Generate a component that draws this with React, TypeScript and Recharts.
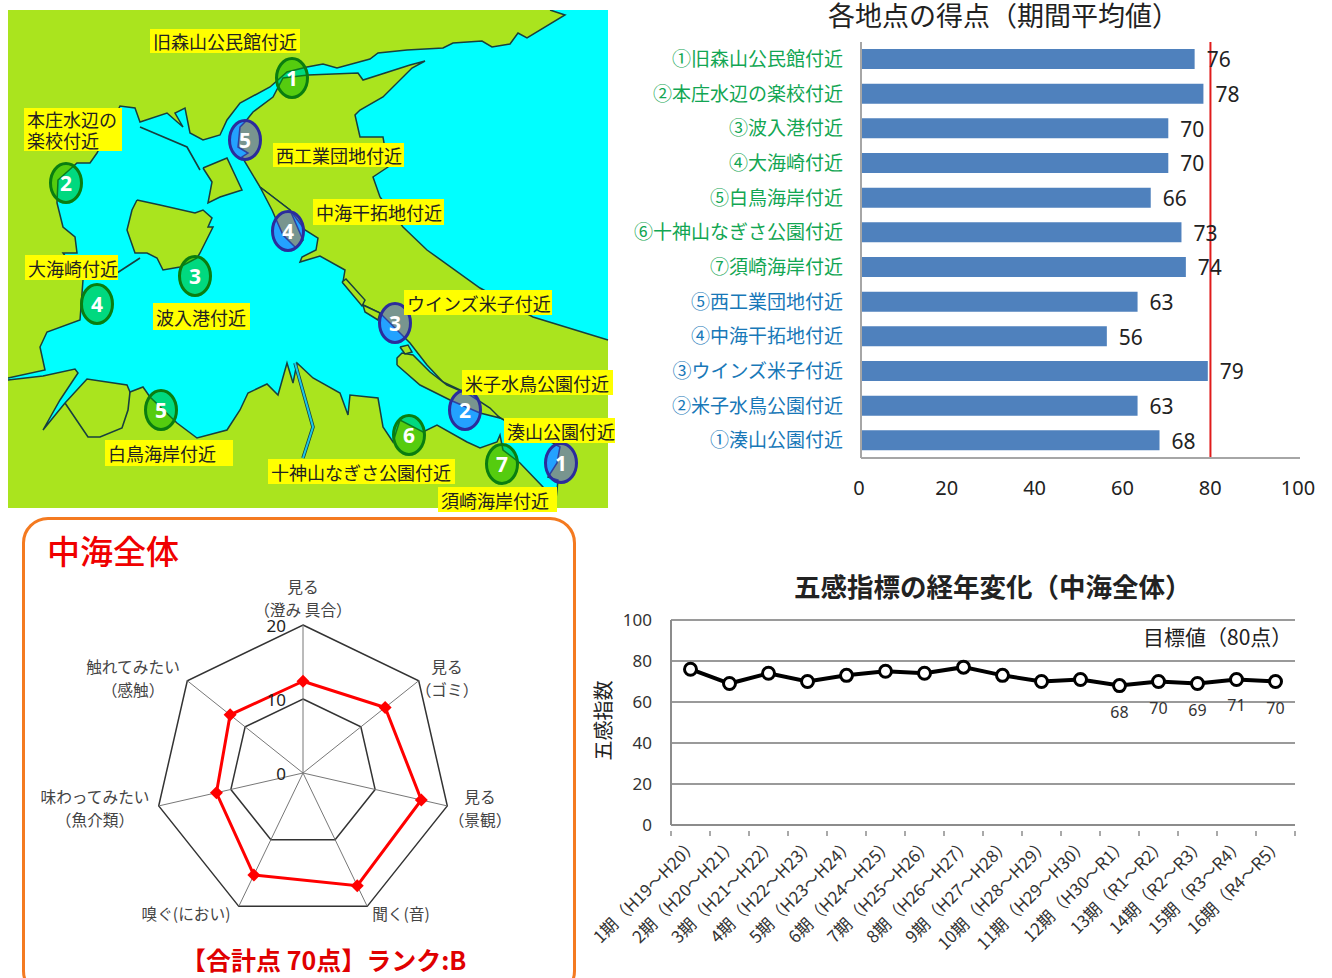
import React from 'react';
import {
  BarChart, Bar, XAxis, YAxis, ReferenceLine, LabelList, LineChart, Line, CartesianGrid,
  RadarChart, Radar, PolarGrid, PolarAngleAxis, PolarRadiusAxis, ScatterChart, Scatter,
} from 'recharts';

const JP = '"Noto Sans CJK JP", "Noto Sans", sans-serif';
const LATIN = '"Noto Sans", "Noto Sans CJK JP", sans-serif';

/* ---------- site scores ---------- */
const siteNames = [
  '①旧森山公民館付近', '②本庄水辺の楽校付近', '③波入港付近', '④大海崎付近', '⑤白鳥海岸付近',
  '⑥十神山なぎさ公園付近', '⑦須崎海岸付近', '⑤西工業団地付近', '④中海干拓地付近',
  '③ウインズ米子付近', '②米子水鳥公園付近', '①湊山公園付近',
];
const siteScores = [76, 78, 70, 70, 66, 73, 74, 63, 56, 79, 63, 68];
const scoreTicks = [0, 20, 40, 60, 80, 100];
const scoreTargetMark = 79.6;
const scoreRows = siteNames.map((name, i) => ({ name, score: siteScores[i] }));

/* ---------- radar ---------- */
const senseKeys = ['澄み具合', 'ゴミ', '景観', '音', 'におい', '魚介類', '感触'];
const senseLines = [
  ['見る', '（澄み 具合）'], ['見る', '（ゴミ）'], ['見る', '（景観）'], ['聞く(音)'],
  ['嗅ぐ(におい)'], ['味わってみたい', '（魚介類）'], ['触れてみたい', '（感触）'],
];
const senseScores = [12.4, 14.2, 16.4, 16.9, 15.3, 12.0, 12.6];
const senseTicks = [0, 10, 20];
const senseRows = senseKeys.map((k, i) => ({ k, v: senseScores[i] }));
const senseLabelAt = [[281, 26], [425, 106], [458, 236], [379, 353], [164, 353], [73, 236], [111, 106]];

/* ---------- yearly trend ---------- */
const periods = [
  '1期（H19～H20）', '2期（H20～H21）', '3期（H21～H22）', '4期（H22～H23）', '5期（H23～H24）',
  '6期（H24～H25）', '7期（H25～H26）', '8期（H26～H27）', '9期（H27～H28）', '10期（H28～H29）',
  '11期（H29～H30）', '12期（H30～R1）', '13期（R1～R2）', '14期（R2～R3）', '15期（R3～R4）', '16期（R4～R5）',
];
const periodScores = [76, 69, 74, 70, 73, 75, 74, 77, 73, 70, 71, 68, 70, 69, 71, 70];
const trendTicks = [0, 20, 40, 60, 80, 100];
const firstLabelledPeriod = 11;
const trendRows = periods.map((p, i) => ({ p, v: periodScores[i] }));

/* ---------- Nakaumi map, in map units ---------- */
type Pt = [number, number];
const waterOutline: Pt[] = [[8, 10], [608, 10], [608, 508], [8, 508]];
const westNorthLand: Pt[] = [
  [8, 10], [550, 10], [565, 15], [527, 38], [518, 33], [510, 44], [492, 47], [482, 41], [453, 43], [443, 48],
  [407, 50], [378, 53], [370, 59], [337, 68], [323, 64], [307, 67], [287, 72], [270, 87], [240, 103], [227, 120],
  [220, 135], [203, 140], [190, 133], [185, 108], [175, 113], [183, 127], [167, 113], [140, 122], [135, 108],
  [120, 106], [97, 153], [90, 163], [77, 163], [58, 180], [57, 203], [63, 227], [75, 237], [77, 253], [63, 253],
  [83, 280], [80, 320], [47, 332], [40, 347], [45, 370], [8, 378],
];
const eastLand: Pt[] = [
  [608, 508], [608, 340], [533, 317], [480, 288], [427, 250], [403, 227], [380, 197], [373, 177], [388, 167],
  [383, 137], [360, 137], [355, 115], [360, 110], [383, 97], [412, 68], [425, 61], [410, 65], [363, 80], [358, 73],
  [308, 75], [283, 78], [273, 97], [253, 112], [245, 122], [240, 127], [238, 147], [248, 153], [242, 157], [260, 187],
  [290, 210], [305, 230], [318, 238], [316, 250], [302, 257], [300, 262], [320, 256], [345, 270], [343, 282],
  [363, 305], [380, 313], [410, 343], [427, 365], [443, 382], [460, 390], [487, 410], [504, 420], [553, 443],
  [560, 447], [557, 463], [548, 477], [558, 480], [557, 490], [555, 508],
];
const southLand: Pt[] = [
  [8, 380], [43, 376], [75, 369], [78, 373], [60, 400], [43, 430], [65, 403], [87, 379], [127, 385], [130, 392],
  [143, 387], [150, 397], [177, 423], [197, 438], [227, 430], [240, 410], [248, 393], [267, 384], [278, 395],
  [287, 363], [293, 383], [297, 363], [313, 378], [340, 393], [348, 415], [350, 395], [378, 398], [383, 427],
  [393, 442], [400, 420], [423, 432], [437, 425], [467, 442], [480, 448], [497, 442], [500, 435], [503, 450],
  [520, 463], [543, 487], [555, 508], [8, 508],
];
const centreIsland: Pt[] = [
  [137, 200], [160, 205], [195, 213], [203, 210], [212, 218], [208, 227], [213, 227], [200, 253], [197, 258],
  [180, 267], [163, 270], [157, 258], [147, 253], [135, 253], [127, 230], [132, 210],
];
const smallIsland: Pt[] = [[203, 168], [227, 158], [242, 190], [220, 197], [208, 203], [212, 182]];
const reclaimedTriangle: Pt[] = [[260, 187], [272, 210], [283, 235], [296, 248], [303, 240], [290, 210]];
const harbourStrip: Pt[] = [
  [397, 365], [397, 358], [402, 353], [413, 355], [430, 372], [447, 385], [470, 395], [490, 408], [500, 418],
  [480, 413], [450, 400], [420, 385],
];
const jettyA: Pt[] = [[342, 282], [346, 279], [365, 300], [362, 306]];
const jettyB: Pt[] = [[363, 305], [380, 313], [378, 320], [365, 312]];
const jettyC: Pt[] = [[400, 347], [408, 345], [412, 352], [405, 354]];
const causeways: Pt[][] = [
  [[140, 127], [187, 147], [200, 170]],
  [[117, 273], [140, 258]],
  [[65, 403], [88, 437], [100, 437], [122, 428], [128, 410], [130, 392]],
];
const innerRiver: Pt[] = [[295, 363], [313, 427], [303, 458]];
const shoreFills = [westNorthLand, eastLand, southLand];
const islands = [centreIsland, smallIsland, reclaimedTriangle, harbourStrip, jettyA, jettyB, jettyC];
// Shorelines of the three big land masses, leaving out the sides that lie on the map's frame.
const shoreLines: Pt[][] = [westNorthLand.slice(1), eastLand.slice(1), southLand.slice(0, -1)];

const greenSites = [[1, 292, 78], [2, 66, 183], [3, 195, 276], [4, 97, 304], [5, 161, 410], [6, 409, 435], [7, 502, 464]];
const blueSites = [[5, 245, 140], [4, 288, 231], [3, 395, 323], [2, 465, 410], [1, 561, 463]];

const placeNames = [
  '旧森山公民館付近', '本庄水辺の\n楽校付近', '西工業団地付近', '中海干拓地付近', '大海崎付近', '波入港付近',
  '白鳥海岸付近', '十神山なぎさ公園付近', '須崎海岸付近', '湊山公園付近', '米子水鳥公園付近', 'ウインズ米子付近',
];
const placeBoxes = [
  [150, 29, 150, 24], [24, 108, 98, 43], [273, 143, 131, 24], [313, 199, 131, 26], [25, 255, 93, 25], [153, 303, 97, 27],
  [105, 440, 128, 26], [268, 459, 187, 25], [438, 487, 119, 25], [504, 418, 111, 25], [462, 370, 151, 25], [404, 290, 148, 25],
];
const placeRows = placeNames.map((text, i) => ({
  x: placeBoxes[i][0] + placeBoxes[i][2] / 2,
  y: placeBoxes[i][1] + placeBoxes[i][3] / 2,
  text,
  index: i,
}));

const toRows = (ring: Pt[], close = true) => {
  const pts = close ? [...ring, ring[0]] : ring;
  return pts.map(([x, y]) => ({ x, y }));
};
const noMark = () => null;
const LAND = '#aae41e';
const SHORE = '#173f3f';

function SiteMark(props: any) {
  const { cx, cy, payload, tone } = props;
  const fill = tone === 'green' ? '#00b400' : '#4646ff';
  const stroke = tone === 'green' ? '#0a7d10' : '#2b2c9c';
  return (
    <g>
      <ellipse cx={cx} cy={cy} rx={15.5} ry={19.5} fill={fill} fillOpacity={0.5} stroke={stroke} strokeWidth={3} />
      <text x={cx} y={cy} textAnchor="middle" dominantBaseline="central" fill="#fff" fontSize={21} fontWeight={700} fontFamily={LATIN}>
        {payload.n}
      </text>
    </g>
  );
}

function PlaceLabel(props: any) {
  const { cx, cy, payload } = props;
  const [, , w, h] = placeBoxes[payload.index];
  const lines: string[] = payload.text.split('\n');
  const left = cx - w / 2;
  const top = cy - h / 2;
  return (
    <g>
      <rect x={left} y={top} width={w} height={h} fill="#ffff00" />
      {lines.map((line, i) => (
        <text key={i} x={left + 3} y={top + (h / lines.length) * (i + 0.5)} dominantBaseline="central"
          fontSize={18} fill="#222" fontFamily={JP}>{line}</text>
      ))}
    </g>
  );
}

function MapPanel() {
  return (
    <ScatterChart width={620} height={510} margin={{ top: 0, right: 0, bottom: 0, left: 0 }}>
      <XAxis type="number" dataKey="x" domain={[8, 628]} hide />
      <YAxis type="number" dataKey="y" domain={[10, 520]} reversed hide />
      <Scatter data={toRows(waterOutline)} shape={noMark} isAnimationActive={false} lineType="joint"
        line={{ fill: '#00ffff', stroke: 'none' }} />
      {shoreFills.map((ring, i) => (
        <Scatter key={i} data={toRows(ring)} shape={noMark} isAnimationActive={false} lineType="joint"
          line={{ fill: LAND, stroke: 'none' }} />
      ))}
      {shoreLines.map((ring, i) => (
        <Scatter key={i} data={toRows(ring, false)} shape={noMark} isAnimationActive={false} lineType="joint"
          line={{ fill: 'none', stroke: SHORE, strokeWidth: 1.5 }} />
      ))}
      {islands.map((ring, i) => (
        <Scatter key={i} data={toRows(ring)} shape={noMark} isAnimationActive={false} lineType="joint"
          line={{ fill: LAND, stroke: SHORE, strokeWidth: 1.5 }} />
      ))}
      {causeways.map((ring, i) => (
        <Scatter key={i} data={toRows(ring, false)} shape={noMark} isAnimationActive={false} lineType="joint"
          line={{ fill: 'none', stroke: SHORE, strokeWidth: 1.6 }} />
      ))}
      <Scatter data={toRows(innerRiver, false)} shape={noMark} isAnimationActive={false} lineType="joint"
        line={{ fill: 'none', stroke: SHORE, strokeWidth: 3.5 }} />
      <Scatter data={toRows(innerRiver, false)} shape={noMark} isAnimationActive={false} lineType="joint"
        line={{ fill: 'none', stroke: '#1cc6e8', strokeWidth: 2 }} />
      <Scatter data={greenSites.map(([n, x, y]) => ({ n, x, y }))} isAnimationActive={false}
        shape={(p: any) => <SiteMark {...p} tone="green" />} />
      <Scatter data={blueSites.map(([n, x, y]) => ({ n, x, y }))} isAnimationActive={false}
        shape={(p: any) => <SiteMark {...p} tone="blue" />} />
      <Scatter data={placeRows} isAnimationActive={false} shape={(p: any) => <PlaceLabel {...p} />} />
    </ScatterChart>
  );
}

function SiteTick(props: any) {
  const { x, y, payload } = props;
  const idx = siteNames.indexOf(payload.value);
  return (
    <text x={x - 10} y={y - 2} textAnchor="end" dominantBaseline="central" fontSize={19} fontFamily={JP}
      fill={idx < 7 ? '#12a653' : '#1878b8'}>
      {payload.value}
    </text>
  );
}

function ScorePanel() {
  return (
    <BarChart width={712} height={478} layout="vertical" data={scoreRows}
      margin={{ top: 12, right: 32, bottom: 0, left: 0 }}>
      <XAxis type="number" domain={[0, 100]} ticks={scoreTicks} interval={0} height={50} tickLine={false}
        tickMargin={17} axisLine={{ stroke: '#a6a6a6', strokeWidth: 2 }}
        tick={{ fontSize: 20, fill: '#222', fontFamily: LATIN, dx: -2 }} />
      <YAxis type="category" dataKey="name" width={241} interval={0} tickLine={false}
        axisLine={{ stroke: '#a6a6a6', strokeWidth: 2 }} tick={(p: any) => <SiteTick {...p} />} />
      <Bar dataKey="score" fill="#4f81bd" barSize={20} isAnimationActive={false}>
        <LabelList dataKey="score" position="right" offset={12} fontSize={21} fill="#222" fontFamily={LATIN} dy={1} />
      </Bar>
      <ReferenceLine x={scoreTargetMark} stroke="#e01b1b" strokeWidth={2} />
    </BarChart>
  );
}

function SenseTick(props: any) {
  const idx = senseKeys.indexOf(props.payload.value);
  const [x, y] = senseLabelAt[idx];
  return (
    <text textAnchor="middle" fontSize={15.7} fill="#444" fontFamily={JP}>
      {senseLines[idx].map((line, i) => (
        <tspan key={i} x={x} y={y + i * 23} dominantBaseline="central">{line}</tspan>
      ))}
    </text>
  );
}

const diamondDot = (p: any) => {
  const { cx, cy, key } = p;
  const r = 6.5;
  return <polygon key={key} points={`${cx},${cy - r} ${cx + r},${cy} ${cx},${cy + r} ${cx - r},${cy}`} fill="#ff0000" />;
};

function SensePanel() {
  return (
    <RadarChart width={540} height={400} cx={281} cy={213} outerRadius={148} data={senseRows}
      margin={{ top: 0, right: 0, bottom: 0, left: 0 }}>
      <PolarGrid gridType="polygon" polarRadius={[74, 148]} radialLines={false} stroke="#333" strokeWidth={1.5} />
      <PolarGrid gridType="polygon" polarRadius={[]} stroke="#777" strokeWidth={1} />
      <PolarAngleAxis dataKey="k" tick={(p: any) => <SenseTick {...p} />} tickLine={false} axisLine={false} />
      <PolarRadiusAxis angle={90} domain={[0, 20]} ticks={senseTicks as any} tickCount={3} axisLine={false} tickLine={false}
        orientation="left" tick={{ fontSize: 17, fill: '#222', fontFamily: LATIN, dx: -17, dy: 7 }} />
      <Radar dataKey="v" stroke="#ff0000" strokeWidth={3} fill="none" fillOpacity={0} dot={diamondDot} isAnimationActive={false} />
    </RadarChart>
  );
}

function PeriodTick(props: any) {
  const { x, y, payload, index } = props;
  const half = 19.5;
  return (
    <g>
      <line x1={x - half} x2={x - half} y1={y - 9} y2={y - 4} stroke="#8c8c8c" strokeWidth={1.5} />
      {index === periods.length - 1 && (
        <line x1={x + half} x2={x + half} y1={y - 9} y2={y - 4} stroke="#8c8c8c" strokeWidth={1.5} />
      )}
      <text transform={`translate(${x + 4},${y}) rotate(-45)`} textAnchor="end" dominantBaseline="central"
        fontSize={17} fill="#333" fontFamily={JP}>
        {payload.value}
      </text>
    </g>
  );
}

const latestLabel = (p: any) => {
  const { x, y, value, index } = p;
  if (index < firstLabelledPeriod) return null;
  return (
    <text key={index} x={x} y={y + 26} textAnchor="middle" dominantBaseline="central" fontSize={16} fill="#333" fontFamily={LATIN}>
      {value}
    </text>
  );
};

function TrendPanel() {
  return (
    <LineChart width={742} height={378} data={trendRows} margin={{ top: 20, right: 37, bottom: 0, left: 0 }}>
      <CartesianGrid vertical={false} stroke="#9a9a9a" strokeWidth={2} />
      <XAxis dataKey="p" scale="band" interval={0} height={153} tickLine={false} tickMargin={9}
        axisLine={{ stroke: '#8c8c8c', strokeWidth: 2 }} tick={(p: any) => <PeriodTick {...p} />} />
      <XAxis xAxisId="span" type="number" domain={[0, 16]} hide />
      <YAxis type="number" domain={[0, 100]} ticks={trendTicks} width={81} tickLine={false} tickMargin={13}
        axisLine={{ stroke: '#8c8c8c', strokeWidth: 2 }} tick={{ fontSize: 17, fill: '#333', fontFamily: LATIN }}
        label={{ value: '五感指数', angle: -90, position: 'insideLeft', offset: 14, fontSize: 20, fill: '#222', fontFamily: JP, dy: 38 }} />
      <ReferenceLine xAxisId="span" stroke="#ff0000" strokeWidth={4}
        segment={[{ x: 8.18, y: 80 }, { x: 16, y: 80 }]} />
      <Line dataKey="v" stroke="#000" strokeWidth={4} isAnimationActive={false} label={latestLabel}
        dot={{ r: 6, fill: '#fff', stroke: '#000', strokeWidth: 3 }} />
    </LineChart>
  );
}

function Caption(props: { left: number; top: number; size: number; color?: string; weight?: number; children: React.ReactNode }) {
  const { left, top, size, color = '#222', weight = 400, children } = props;
  return (
    <div style={{ position: 'absolute', left, top, fontSize: size, lineHeight: `${size + 2}px`, color, fontFamily: JP, fontWeight: weight, whiteSpace: 'nowrap' }}>
      {children}
    </div>
  );
}

export default function App() {
  return (
    <div style={{ position: 'absolute', left: 0, top: 0, width: 1332, height: 978, overflow: 'hidden', background: '#fff' }}>
      <div style={{ position: 'absolute', left: 8, top: 10 }}><MapPanel /></div>

      <Caption left={828} top={0} size={27}>各地点の得点（期間平均値）</Caption>
      <div style={{ position: 'absolute', left: 620, top: 30 }}><ScorePanel /></div>

      <div style={{ position: 'absolute', left: 22, top: 517, width: 554, height: 480, border: '3px solid #f47a20', borderRadius: 26, boxSizing: 'border-box' }} />
      <Caption left={47} top={533} size={33} color="#f00000" weight={500}>中海全体</Caption>
      <div style={{ position: 'absolute', left: 22, top: 560 }}><SensePanel /></div>
      <Caption left={181} top={946} size={25} color="#e00000" weight={700}>【合計点 70点】ランク:B</Caption>

      <Caption left={794} top={572} size={26.5} weight={700}>五感指標の経年変化（中海全体）</Caption>
      <div style={{ position: 'absolute', left: 590, top: 600 }}><TrendPanel /></div>
      <Caption left={1143} top={625} size={21}>目標値（80点）</Caption>
    </div>
  );
}
